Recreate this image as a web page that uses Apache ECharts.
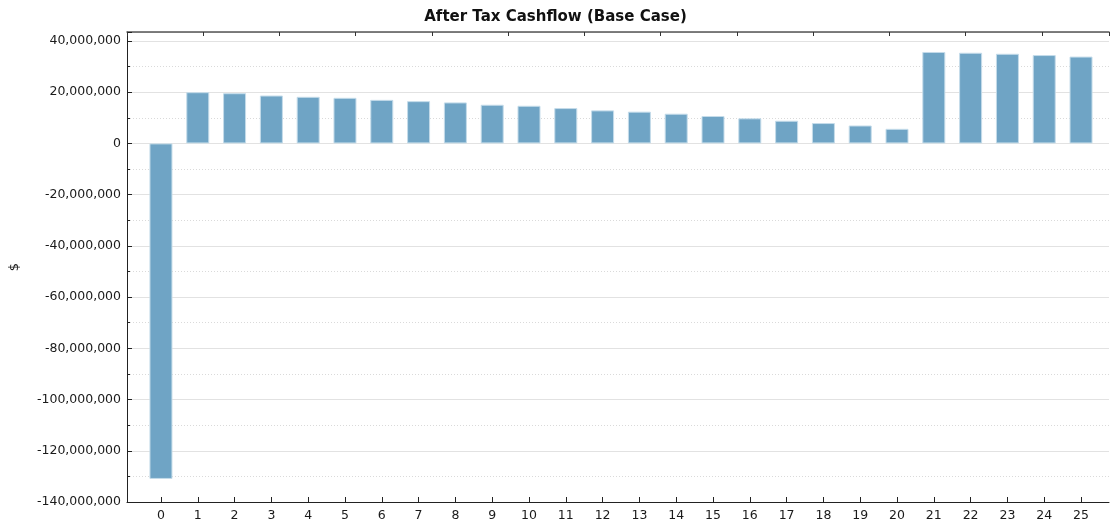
<!DOCTYPE html>
<html>
<head>
<meta charset="utf-8">
<script src="https://cdn.jsdelivr.net/npm/echarts@6/dist/echarts.min.js"></script>
<style>html,body{margin:0;padding:0;background:#fff}#c{width:1111px;height:525px}</style>
</head>
<body>
<div id="c"></div>
<script>
const title = 'After Tax Cashflow (Base Case)';
const yAxisName = '$';
const categories = [0,1,2,3,4,5,6,7,8,9,10,11,12,13,14,15,16,17,18,19,20,21,22,23,24,25];
const cashflow = [-131000000, 20000000, 19600000, 18700000, 18200000, 17800000, 17000000, 16500000, 16000000, 15100000, 14700000, 13800000, 12900000, 12400000, 11600000, 10700000, 9800000, 8850000, 7950000, 7000000, 5700000, 35700000, 35400000, 35000000, 34500000, 33900000];
const yTicks = [-140000000, -120000000, -100000000, -80000000, -60000000, -40000000, -20000000, 0, 20000000, 40000000];

const chart = echarts.init(document.getElementById('c'));
const font = 'DejaVu Sans';
chart.setOption({
  animation: false,
  title: {
    text: title, left: 'center', top: 5,
    textStyle: {fontFamily: font, fontWeight: 'bold', fontSize: 15, color: '#111'}
  },
  grid: {left: 126, right: 2, top: 32, bottom: 23, containLabel: false},
  xAxis: [{
    type: 'value', position: 'bottom',
    min: -0.923, max: 25.76,
    axisLine: {show: true, onZero: false, lineStyle: {color: '#222', width: 1}},
    axisTick: {show: true, inside: true, length: 5, customValues: categories, lineStyle: {color: '#222'}},
    axisLabel: {customValues: categories, fontFamily: font, fontSize: 12.5, color: '#1a1a1a', margin: 7},
    splitLine: {show: false}
  }, {
    type: 'value', position: 'top',
    min: 0, max: 12.88, interval: 1,
    axisLine: {show: true, onZero: false, lineStyle: {color: '#555', width: 1.5}},
    axisTick: {show: true, inside: true, length: 4, lineStyle: {color: '#333'}},
    axisLabel: {show: false},
    splitLine: {show: false}
  }],
  yAxis: {
    type: 'value', min: yTicks[0], max: 43500000, interval: 20000000,
    name: yAxisName, nameLocation: 'middle', nameRotate: 90, nameGap: 106,
    nameTextStyle: {fontFamily: font, fontSize: 13, color: '#1a1a1a'},
    axisLine: {show: true, onZero: false, lineStyle: {color: '#222', width: 1}},
    axisTick: {show: true, inside: true, length: 5, lineStyle: {color: '#222'}},
    minorTick: {show: true, splitNumber: 2, length: 3, lineStyle: {color: '#222'}},
    axisLabel: {
      fontFamily: font, fontSize: 12.5, color: '#1a1a1a', margin: 6, showMaxLabel: false,
      formatter: v => yTicks.includes(v) ? v.toLocaleString('en-US') : ''
    },
    splitLine: {show: true, lineStyle: {color: '#e2e2e2', width: 1}},
    minorSplitLine: {show: true, lineStyle: {color: '#dadada', type: [1, 2], width: 1}}
  },
  series: [{
    type: 'bar', xAxisIndex: 0,
    data: categories.map((c, i) => [c, cashflow[i]]),
    barWidth: 23,
    itemStyle: {color: '#6fa4c5', borderColor: '#c5dcea', borderWidth: 1}
  }]
});
</script>
</body>
</html>
